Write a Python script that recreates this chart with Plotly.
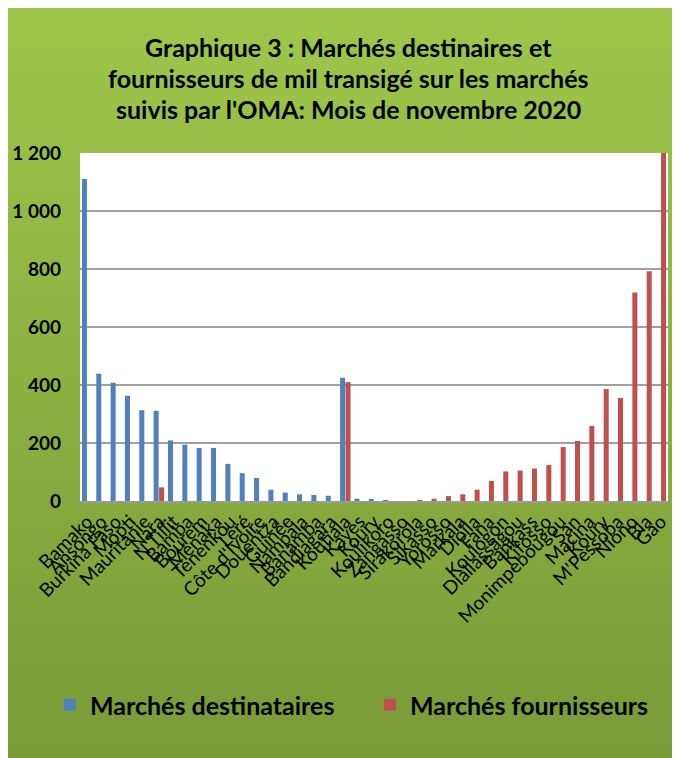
import plotly.graph_objects as go

categories = ["Bamako", "Ansongo", "Burkina Faso", "Mopti", "Mauritanie", "Nara", "N'Tillit",
              "Bamba", "Bourem", "Ménaka", "Ténenkou", "Léré", "Côte d'Ivoire", "Douentza",
              "Guinée", "Nampala", "Banamba", "Bandiagara", "Koutiala", "Kayes", "Koury",
              "Koulikoro", "Zangasso", "Sirakorola", "Sikasso", "Yorosso", "Markala", "Dioila",
              "Fana", "Koulogon", "Diallassagou", "Bankass", "Kifosso", "Monimpebougou", "San",
              "Macina", "Koury", "M'Pessoba", "Niono", "Bla", "Gao"]

destinataires = [1110, 439, 408, 363, 313, 311, 209, 194, 183, 183, 128, 96, 79, 39, 29, 23,
                 21, 18, 425, 8, 4, 1, None, None, None, None, None, None, None, None, None,
                 None, None, None, None, None, None, None, None, None, None]

fournisseurs = [None, None, None, None, None, 47, None, None, None, None, None, None, None,
                None, None, None, None, None, 410, None, None, None, None, 2, 8, 17, 23, 39,
                69, 102, 105, 112, 124, 186, 207, 259, 386, 355, 719, 792, 1230]

title_lines = ["Graphique 3 : Marchés destinaires et",
               "fournisseurs de mil transigé sur les marchés",
               "suivis par l'OMA: Mois de novembre 2020"]

# page has an 8px body margin; figure coordinates = reference pixel - 8
OFF = 8
W, H = 672, 750
L, R, T, B = 72, 12, 145, 257
PW, PH = W - L - R, H - T - B

def px_x(px):
    return (px - OFF - L) / PW

def px_y(py):
    return (H - B - (py - OFF)) / PH

positions = list(range(len(categories)))

fig = go.Figure()
fig.add_trace(go.Bar(x=positions, y=destinataires, name="Marchés destinataires",
                     legend="legend",
                     marker=dict(color="#4f81bd", line=dict(width=0))))
fig.add_trace(go.Bar(x=positions, y=fournisseurs, name="Marchés fournisseurs",
                     legend="legend2",
                     marker=dict(color="#c0504d", line=dict(width=0))))

# gradient background strips
shapes = []
top_c = (158, 198, 74)
bot_c = (122, 155, 56)
n = 60
for i in range(n):
    a = OFF + (H) * i / n
    b = OFF + (H) * (i + 1) / n + 1
    t = i / (n - 1)
    c = tuple(int(round(top_c[k] + (bot_c[k] - top_c[k]) * t)) for k in range(3))
    shapes.append(dict(type="rect", xref="paper", yref="paper", layer="below",
                       x0=px_x(OFF - 2), x1=px_x(W + OFF + 2), y0=px_y(b), y1=px_y(a),
                       fillcolor="rgb(%d,%d,%d)" % c, line=dict(width=0)))
shapes.append(dict(type="rect", xref="paper", yref="paper", layer="below",
                   x0=0, x1=1, y0=0, y1=1, fillcolor="white", line=dict(width=0)))

annotations = []
for i, line in enumerate(title_lines):
    annotations.append(dict(text="<b>%s</b>" % line, xref="paper", yref="paper",
                            x=px_x(348), y=px_y(47 + 31 * i), xanchor="center",
                            yanchor="middle", showarrow=False,
                            font=dict(family="Lato", size=25, color="black")))

legend_font = dict(family="Lato", size=25, color="black", weight="bold")
legend_y = 1 - (705 - OFF) / H

fig.update_layout(
    width=W, height=H,
    margin=dict(l=L, r=R, t=T, b=B, pad=0, autoexpand=False),
    paper_bgcolor="white",
    plot_bgcolor="white",
    separators=", ",
    barmode="group",
    bargap=0.24,
    bargroupgap=0.08,
    shapes=shapes,
    annotations=annotations,
    font=dict(family="Lato", color="black"),
    legend=dict(xref="container", yref="container", x=(50 - OFF) / W, y=legend_y,
                xanchor="left", yanchor="middle", font=legend_font,
                bgcolor="rgba(0,0,0,0)", itemwidth=30),
    legend2=dict(xref="container", yref="container", x=(370 - OFF) / W, y=legend_y,
                 xanchor="left", yanchor="middle", font=legend_font,
                 bgcolor="rgba(0,0,0,0)", itemwidth=30),
    showlegend=True,
)

fig.update_xaxes(
    tickmode="array", tickvals=positions, ticktext=categories,
    range=[-0.5, len(categories) - 0.5], automargin=False,
    tickangle=-45, tickfont=dict(family="Lato", size=19, color="black"),
    showline=True, linecolor="#9a9a9a", linewidth=2, ticks="", showgrid=False,
)
fig.update_yaxes(
    range=[0, 1200], tickvals=[0, 200, 400, 600, 800, 1000, 1200], tickformat=",d",
    automargin=False,
    tickfont=dict(family="Lato", size=19, color="black", weight="bold"),
    showgrid=True, gridcolor="#a0a0a0", gridwidth=2, zeroline=False,
    showline=False, ticks="", ticklabelstandoff=18,
)

fig.write_html("out.html")
